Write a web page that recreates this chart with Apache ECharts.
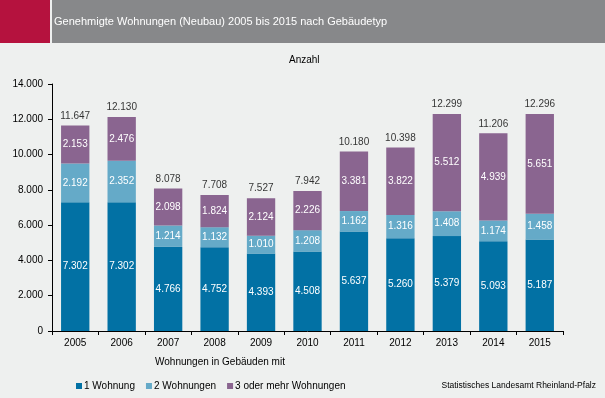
<!DOCTYPE html>
<html><head><meta charset="utf-8">
<script src="https://cdn.jsdelivr.net/npm/echarts@6/dist/echarts.min.js"></script>
<style>html,body{margin:0;padding:0;background:#eef0ef}#c{width:605px;height:398px}</style>
</head><body><div id="c"></div>
<script>
var categories = ['2005','2006','2007','2008','2009','2010','2011','2012','2013','2014','2015'];
var einWohnung = [7302,7302,4766,4752,4393,4508,5637,5260,5379,5093,5187];
var zweiWohnungen = [2192,2352,1214,1132,1010,1208,1162,1316,1408,1174,1458];
var dreiMehr = [2153,2476,2098,1824,2124,2226,3381,3822,5512,4939,5651];
var totals = [11647,12130,8078,7708,7527,7942,10180,10398,12299,11206,12296];
var yTicks = [0,2000,4000,6000,8000,10000,12000,14000];

function de(v){ return String(v).replace(/\B(?=(\d{3})+(?!\d))/g,'.'); }
var FONT = 'Liberation Sans, Arial, sans-serif';
var chart = echarts.init(document.getElementById('c'));
function inLabel(){ return {show:true, position:'inside', color:'#fff', fontSize:10, fontFamily:FONT, formatter:function(p){return de(p.value);}}; }
chart.setOption({
  backgroundColor:'#eef0ef',
  animation:false,
  graphic:[
    {type:'rect', shape:{x:0,y:0,width:50,height:43}, style:{fill:'#b5123e'}},
    {type:'rect', shape:{x:52,y:0,width:553,height:43}, style:{fill:'#87888a'}},
    {type:'text', left:54, top:16, style:{text:'Genehmigte Wohnungen (Neubau) 2005 bis 2015 nach Gebäudetyp', fill:'#fff', font:'11px '+FONT}},
    {type:'text', left:289, top:55, style:{text:'Anzahl', fill:'#000', font:'10px '+FONT}},
    {type:'text', left:155, top:357, style:{text:'Wohnungen in Gebäuden mit', fill:'#000', font:'10px '+FONT}},
    {type:'text', right:9, top:381, style:{text:'Statistisches Landesamt Rheinland-Pfalz', fill:'#000', font:'8.5px '+FONT}}
  ],
  grid:{left:52, right:42, top:84, bottom:67},
  legend:{left:71, top:376, itemWidth:6, itemHeight:6, itemGap:11, icon:'rect',
    textStyle:{fontSize:10, fontFamily:FONT, color:'#000', padding:[0,0,0,-3]},
    data:['1 Wohnung','2 Wohnungen','3 oder mehr Wohnungen']},
  xAxis:{type:'category', data:categories,
    axisLine:{lineStyle:{color:'#000'}},
    axisTick:{show:true, alignWithLabel:false, length:4, lineStyle:{color:'#000'}},
    axisLabel:{color:'#000', fontSize:10, fontFamily:FONT, margin:7}},
  yAxis:{type:'value', min:0, max:14000, interval:2000,
    axisLine:{show:true, lineStyle:{color:'#000'}},
    axisTick:{show:true, length:4, lineStyle:{color:'#000'}},
    splitLine:{show:false},
    axisLabel:{color:'#000', fontSize:10, fontFamily:FONT, margin:9, formatter:function(v){return de(v);}}},
  series:[
    {name:'1 Wohnung', type:'bar', stack:'a', data:einWohnung, barWidth:'61%', itemStyle:{color:'#0271a4'}, label:inLabel()},
    {name:'2 Wohnungen', type:'bar', stack:'a', data:zweiWohnungen, itemStyle:{color:'#65aac8'}, label:inLabel()},
    {name:'3 oder mehr Wohnungen', type:'bar', stack:'a', data:dreiMehr, itemStyle:{color:'#8a6590'}, label:inLabel()},
    {name:'Summe', type:'scatter', data:totals, symbolSize:1, itemStyle:{color:'rgba(0,0,0,0)'},
     label:{show:true, position:'top', distance:4, color:'#000', fontSize:10, fontFamily:FONT, formatter:function(p){return de(p.value);}}}
  ]
});
</script></body></html>
